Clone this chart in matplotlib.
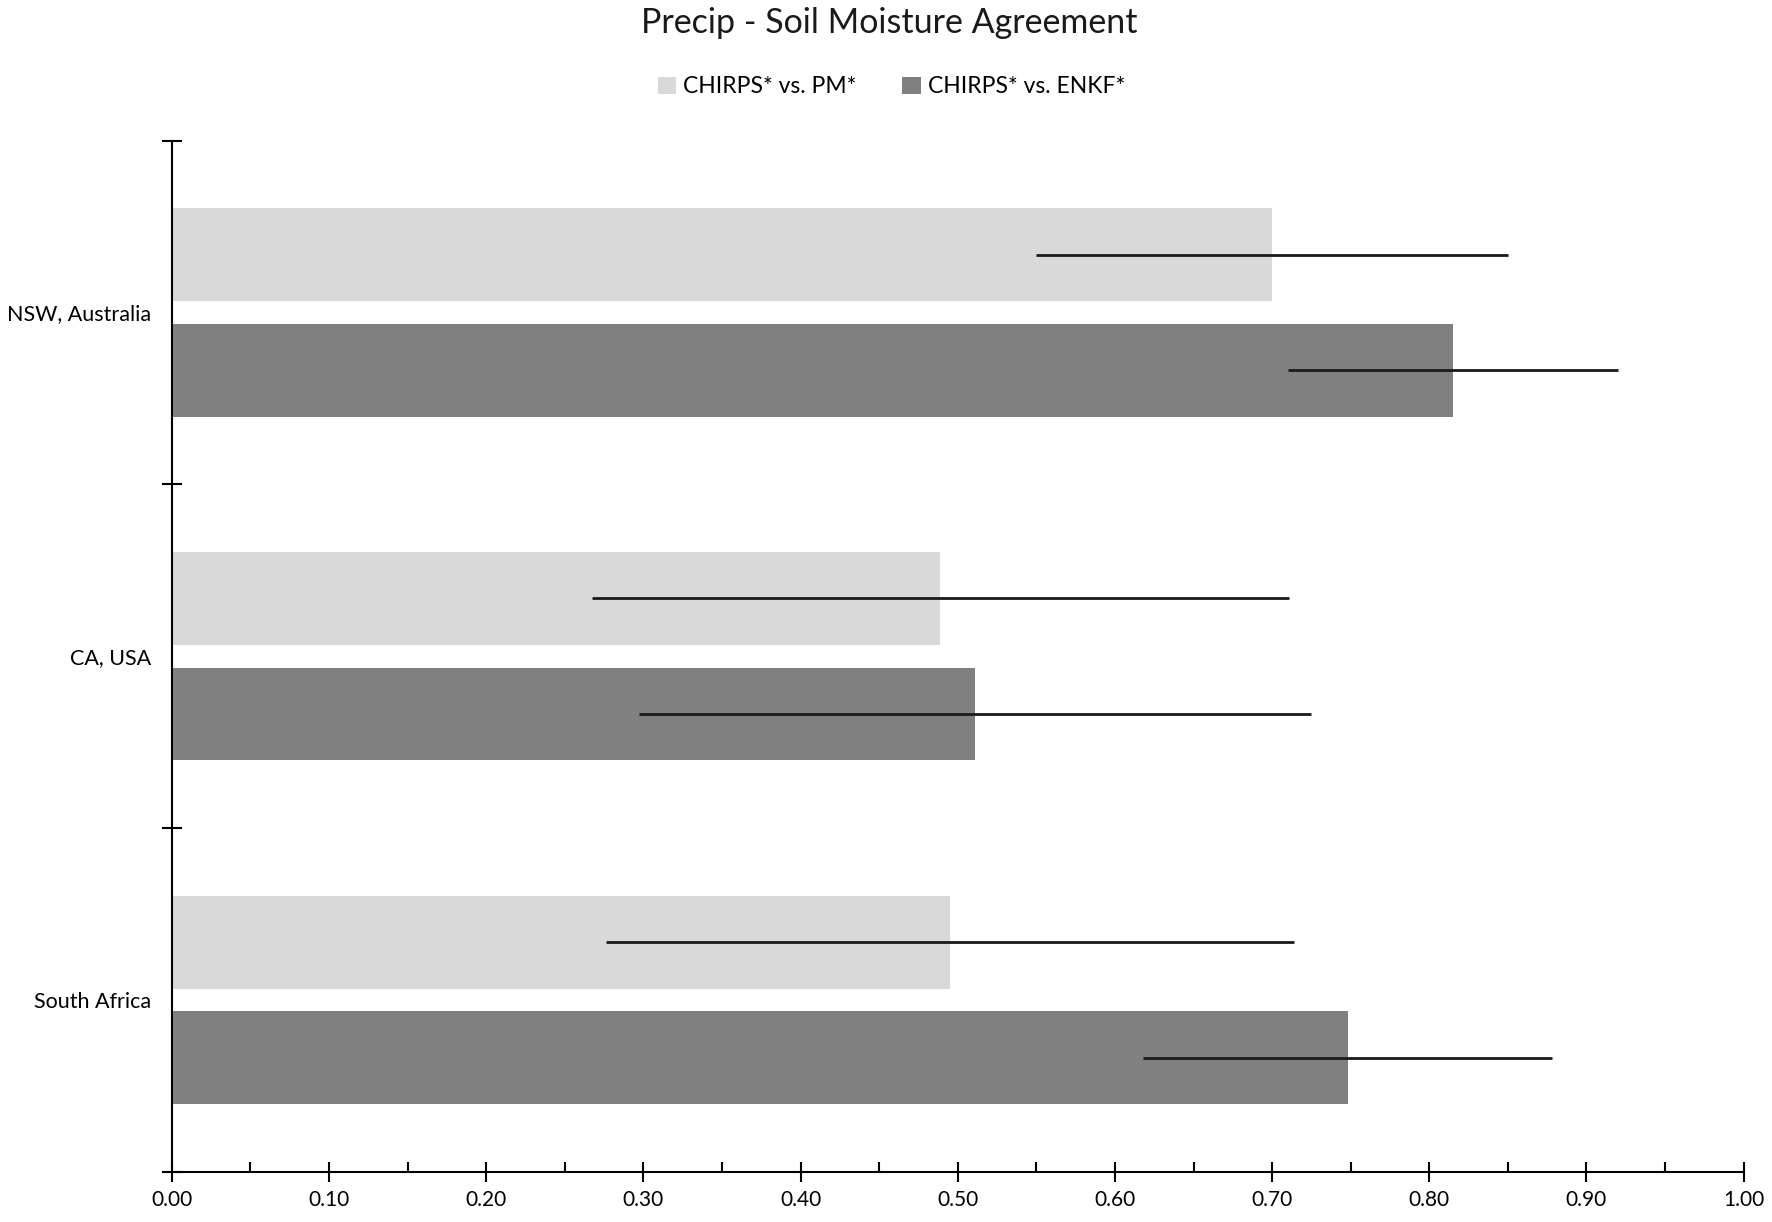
import matplotlib.pyplot as plt
import numpy as np

plt.rcParams['font.family'] = ['Lato', 'DejaVu Sans']

regions = ["NSW, Australia", "CA, USA", "South Africa"]
pm_vals = [0.70, 0.489, 0.495]
pm_err = [0.150, 0.222, 0.219]
enkf_vals = [0.815, 0.511, 0.748]
enkf_err = [0.105, 0.214, 0.130]
series_names = ["CHIRPS* vs. PM*", "CHIRPS* vs. ENKF*"]
xticks = [0.0, 0.1, 0.2, 0.3, 0.4, 0.5, 0.6, 0.7, 0.8, 0.9, 1.0]

fig = plt.figure(figsize=(17.72, 12.22), dpi=100)
ax = fig.add_axes([0.097, 0.041, 0.887, 0.844])

y = np.arange(len(regions))
h = 0.27
off = 0.168

ax.barh(y - off, pm_vals, height=h, color="#d9d9d9", label=series_names[0])
ax.barh(y + off, enkf_vals, height=h, color="#808080", label=series_names[1])

# error lines, no caps
ax.errorbar(pm_vals, y - off, xerr=pm_err, fmt="none", ecolor="#1a1a1a",
            elinewidth=2, capsize=0)
ax.errorbar(enkf_vals, y + off, xerr=enkf_err, fmt="none", ecolor="#1a1a1a",
            elinewidth=2, capsize=0)

ax.set_ylim(2.5, -0.5)
ax.set_xlim(0, 1.0)

ax.set_yticks(y)
ax.set_yticklabels(regions, fontsize=15.5)
ax.set_yticks(np.arange(-0.5, 3.0, 1.0), minor=True)
ax.tick_params(axis="y", which="major", length=0, pad=15)
ax.tick_params(axis="y", which="minor", direction="inout", length=14, width=1.5)

ax.set_xticks(xticks)
ax.set_xticklabels(["%.2f" % v for v in xticks], fontsize=15)
ax.set_xticks(np.arange(0.05, 1.0, 0.1), minor=True)
ax.tick_params(axis="x", which="major", direction="inout", length=14, width=1.5, pad=6)
ax.tick_params(axis="x", which="minor", direction="in", length=7, width=1.5)

for s in ["top", "right"]:
    ax.spines[s].set_visible(False)
for s in ["left", "bottom"]:
    ax.spines[s].set_linewidth(1.5)

fig.text(0.502, 0.981, "Precip - Soil Moisture Agreement", ha="center", va="center",
         fontsize=24.5, color="#1a1a1a")
fig.legend(loc="center", bbox_to_anchor=(0.503, 0.929), ncol=2, frameon=False,
           fontsize=16.5, handlelength=0.8, handleheight=0.8, handletextpad=0.3,
           columnspacing=2.0)

fig.savefig("out.png", dpi=100)
